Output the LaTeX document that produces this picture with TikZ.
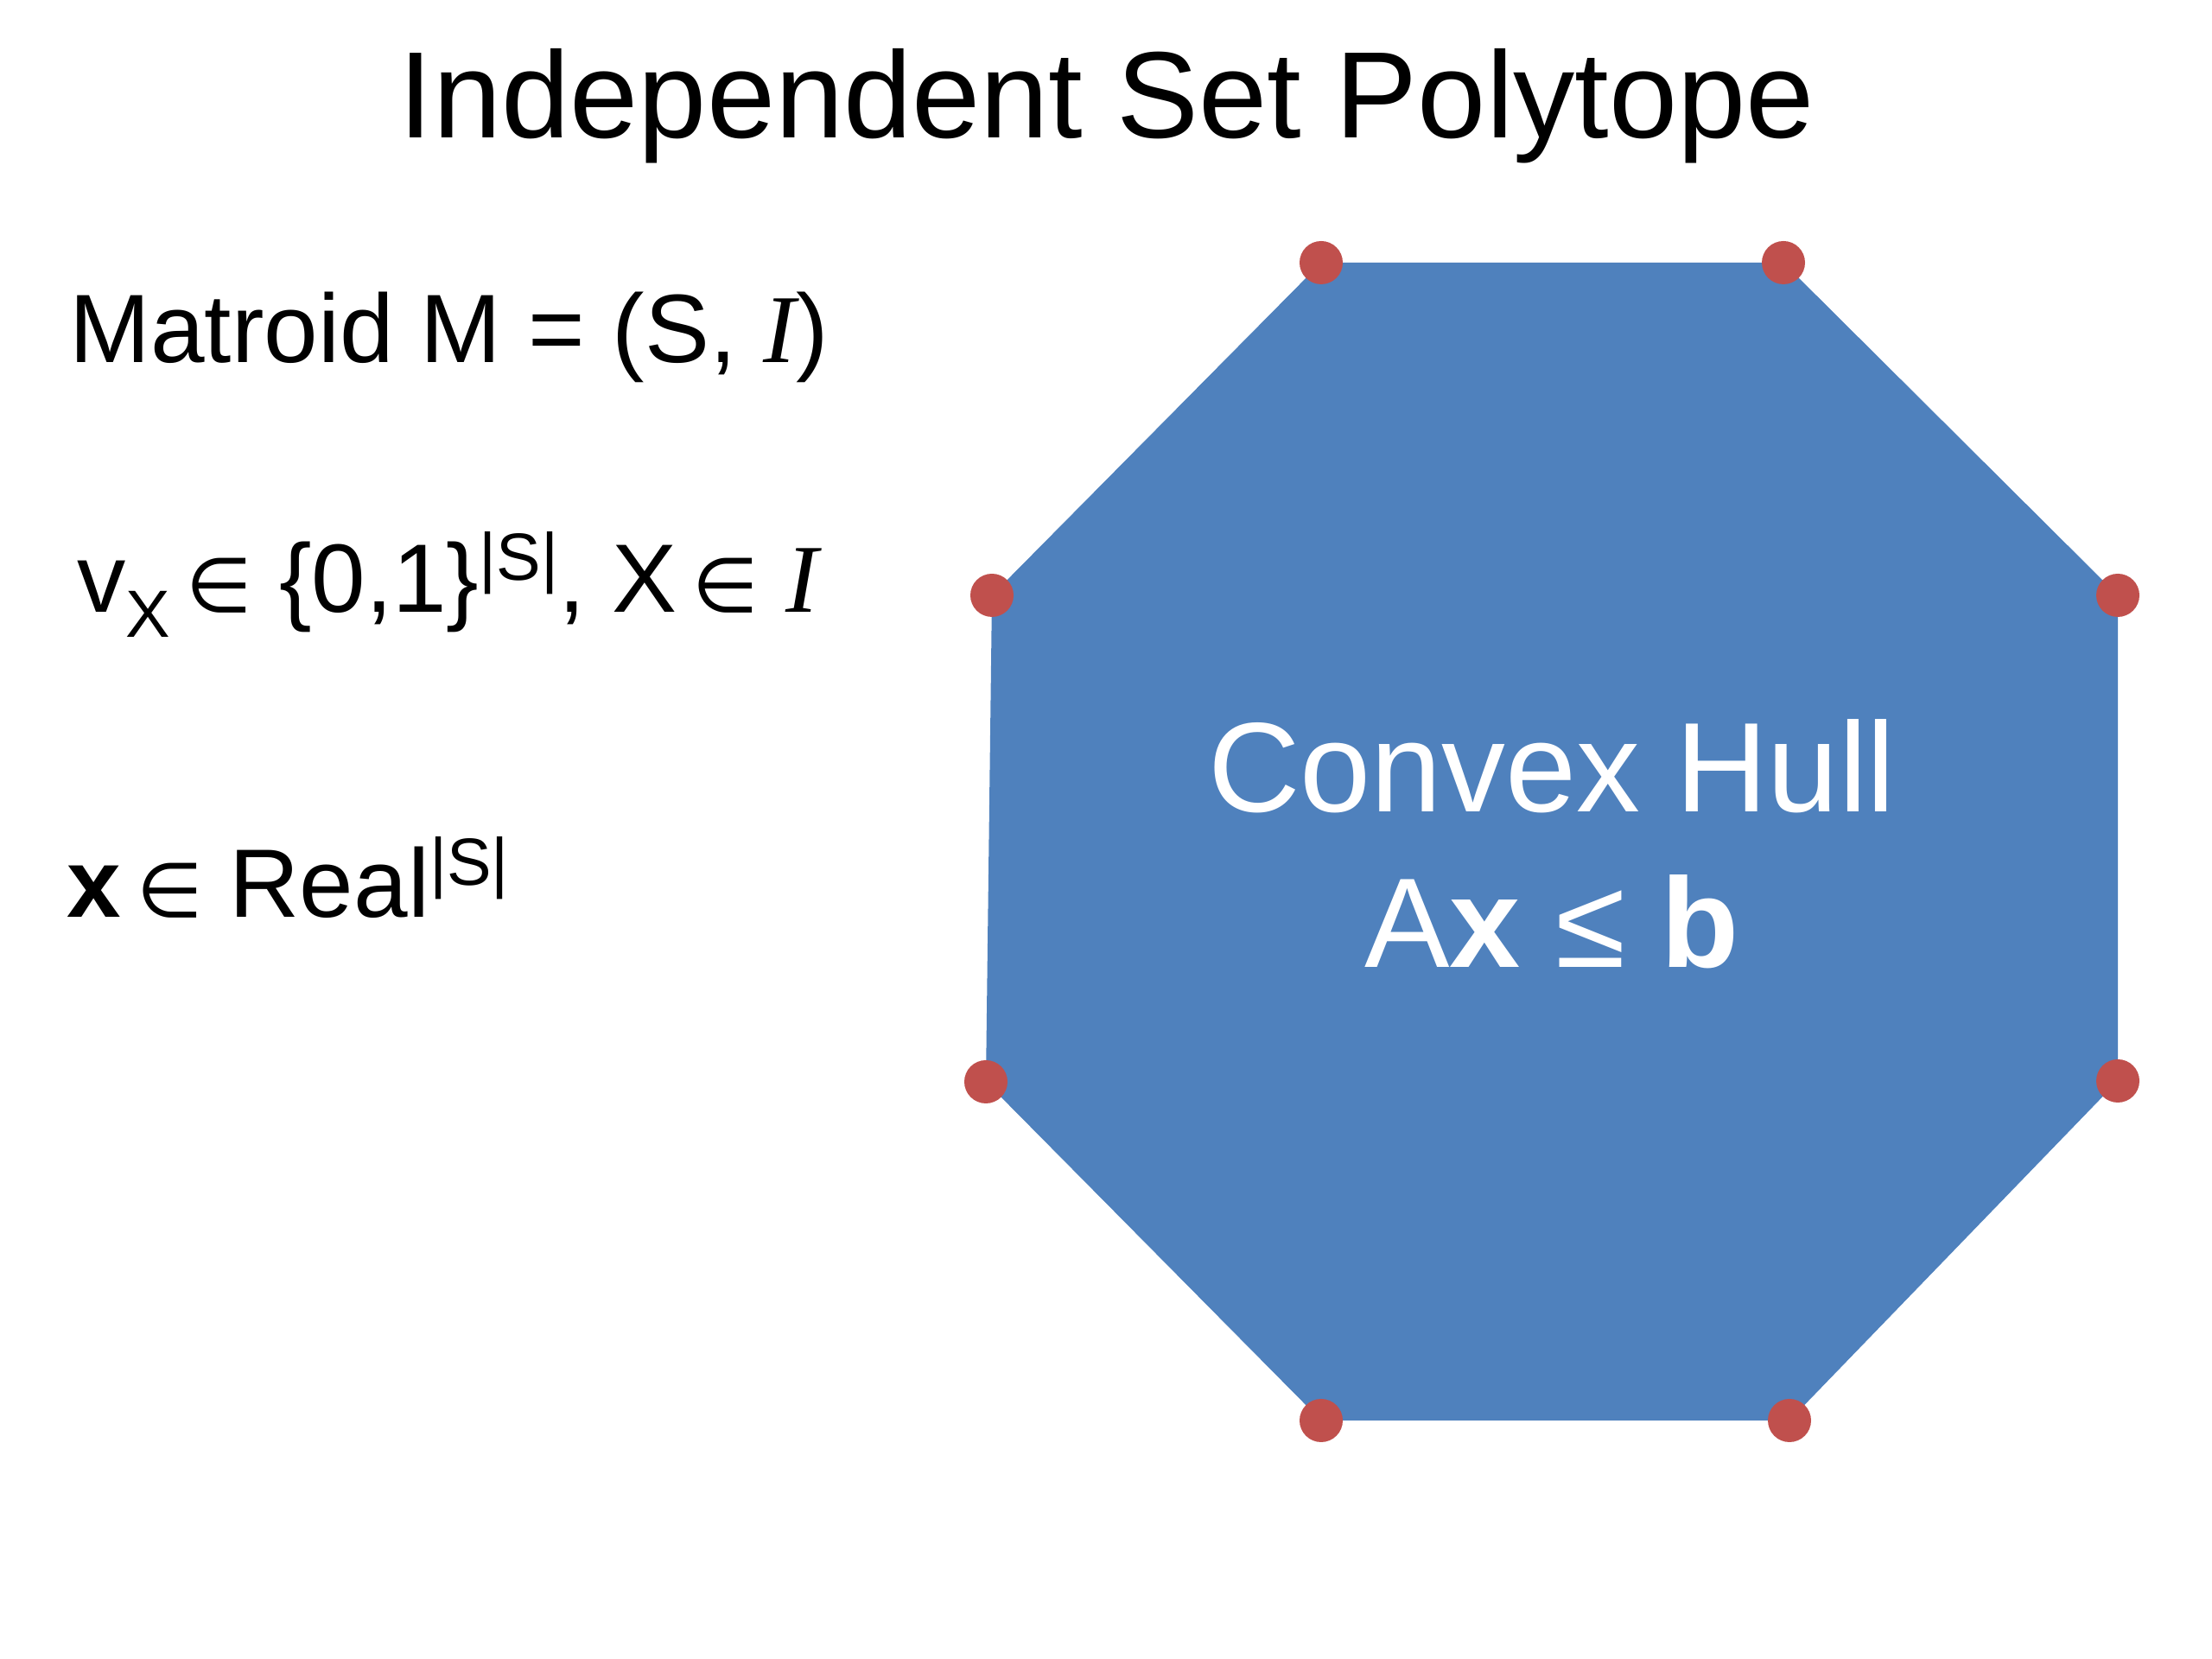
\documentclass[tikz,border=0pt]{standalone}
\usepackage{fontspec}
\setmainfont{Liberation Sans}
\newfontfamily\symfont{DejaVu Sans}
\newfontfamily\timesfont{Liberation Serif}

\definecolor{hullblue}{HTML}{4F81BD}
\definecolor{vertred}{HTML}{C0504D}

\newcommand{\elem}{\kern-0.12em{\symfont\fontsize{25}{25}\selectfont ∈}}
\newcommand{\setI}{{\timesfont\itshape I}}
\newcommand{\supS}{\raisebox{0.33em}{\fontsize{22}{22}\selectfont |S|}}
\newcommand{\subX}{\raisebox{-0.25em}{\fontsize{22}{22}\selectfont X}}

\begin{document}
\begin{tikzpicture}[
  vert/.style={circle,fill=vertred,inner sep=0pt,minimum size=5mm},
  lbl/.style={anchor=base west,inner sep=0pt,font=\fontsize{32}{38}\selectfont},
  hull/.style={anchor=base,inner sep=0pt,text=white,font=\fontsize{42}{50}\selectfont}
]
\useasboundingbox (0,0) rectangle (25.6,19.2);

%=== Title ===
\node[anchor=base,inner sep=0pt,font=\fontsize{40.5}{48}\selectfont] (title)
  at (12.81,17.60) {Independent Set Polytope};

%=== Left column ===
\node[lbl] (matroid) at (0.80,15.00) {Matroid M = (S, \setI)};
\node[lbl] (vx)      at (0.89,12.11) {v\subX\ \elem\ \{0,1\}\supS, X \elem\ \setI};
\node[lbl] (xreal)   at (0.77,8.58)  {\textbf{x} \elem\ Real\supS};

%=== Octagon ===
\coordinate (tl) at (15.29,16.16);
\coordinate (tr) at (20.64,16.16);
\coordinate (ru) at (24.51,12.31);
\coordinate (rl) at (24.51,6.69);
\coordinate (br) at (20.71,2.76);
\coordinate (bl) at (15.29,2.76);
\coordinate (ll) at (11.41,6.68);
\coordinate (lu) at (11.48,12.31);

\fill[hullblue] (tl) -- (tr) -- (ru) -- (rl) -- (br) -- (bl) -- (ll) -- (lu) -- cycle;

% vertices
\foreach \v in {tl,tr,ru,rl,br,bl,ll,lu}
  \node[vert] (dot-\v) at (\v) {};

% label inside
\node[hull] (convex) at (17.96,9.80) {Convex Hull};
\node[hull] (axb)    at (17.96,8.00) {A\textbf{x} ≤ \textbf{b}};

\end{tikzpicture}
\end{document}
